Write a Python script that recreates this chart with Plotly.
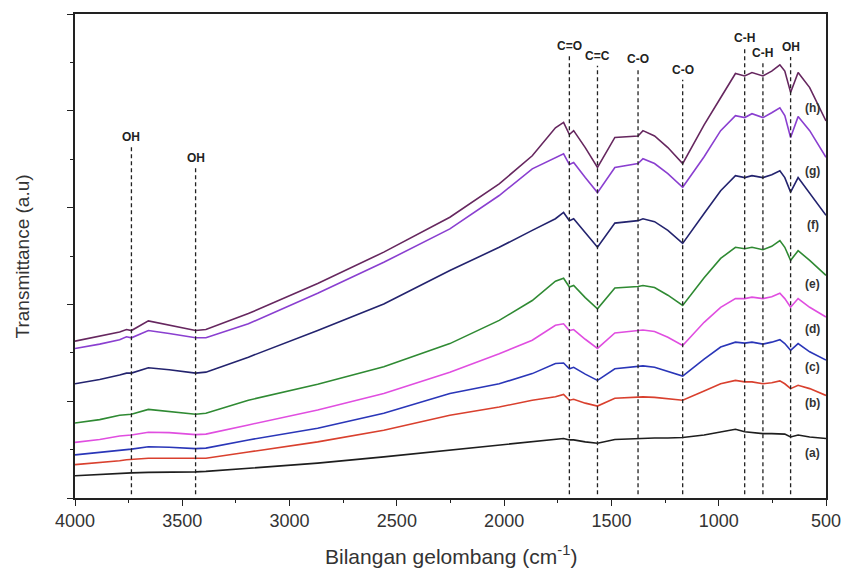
import plotly.graph_objects as go

# Wavenumbers (cm^-1) shared by every spectrum
wavenumber = [4000, 3885, 3792, 3760, 3737, 3658, 3561, 3438, 3390, 3192,
              2869, 2561, 2253, 2023, 1869, 1761, 1723, 1696, 1676, 1622,
              1565, 1484, 1376, 1353, 1299, 1237, 1168, 1068, 991, 922,
              879, 845, 794, 753, 715, 692, 665, 630, 576, 500]

# Transmittance (a.u., stacked) for samples (a)..(h)
spec_a = [0.46, 0.49, 0.51, 0.52, 0.52, 0.53, 0.53, 0.54, 0.55, 0.61,
          0.72, 0.85, 0.99, 1.09, 1.16, 1.21, 1.23, 1.20, 1.20, 1.16,
          1.13, 1.21, 1.23, 1.24, 1.24, 1.24, 1.25, 1.30, 1.37, 1.42,
          1.37, 1.35, 1.33, 1.33, 1.33, 1.32, 1.26, 1.30, 1.26, 1.23]
spec_b = [0.69, 0.73, 0.77, 0.79, 0.80, 0.82, 0.82, 0.81, 0.82, 0.95,
          1.16, 1.40, 1.71, 1.88, 2.02, 2.09, 2.14, 2.02, 2.04, 1.96,
          1.90, 2.06, 2.09, 2.09, 2.08, 2.05, 2.02, 2.21, 2.36, 2.43,
          2.40, 2.40, 2.36, 2.38, 2.42, 2.36, 2.26, 2.33, 2.26, 2.12]
spec_c = [0.89, 0.94, 0.99, 1.00, 1.01, 1.06, 1.05, 1.02, 1.03, 1.20,
          1.44, 1.75, 2.16, 2.36, 2.57, 2.78, 2.79, 2.67, 2.70, 2.56,
          2.43, 2.67, 2.72, 2.73, 2.70, 2.62, 2.52, 2.87, 3.12, 3.22,
          3.20, 3.22, 3.18, 3.22, 3.27, 3.19, 3.05, 3.19, 3.02, 2.85]
spec_d = [1.15, 1.21, 1.28, 1.29, 1.30, 1.36, 1.35, 1.31, 1.32, 1.51,
          1.82, 2.16, 2.60, 2.98, 3.26, 3.57, 3.60, 3.46, 3.48, 3.28,
          3.09, 3.41, 3.46, 3.47, 3.44, 3.32, 3.15, 3.63, 3.94, 4.12,
          4.12, 4.15, 4.12, 4.16, 4.23, 4.12, 3.94, 4.12, 3.94, 3.74]
spec_e = [1.55, 1.62, 1.71, 1.72, 1.73, 1.83, 1.79, 1.73, 1.75, 2.02,
          2.35, 2.71, 3.19, 3.67, 4.08, 4.48, 4.54, 4.36, 4.39, 4.14,
          3.91, 4.34, 4.37, 4.39, 4.35, 4.19, 3.98, 4.55, 4.95, 5.18,
          5.15, 5.18, 5.13, 5.20, 5.32, 5.18, 4.91, 5.11, 4.91, 4.60]
spec_f = [2.36, 2.45, 2.54, 2.58, 2.58, 2.69, 2.65, 2.58, 2.60, 2.91,
          3.46, 4.01, 4.70, 5.18, 5.53, 5.77, 5.90, 5.73, 5.77, 5.48,
          5.18, 5.68, 5.73, 5.77, 5.71, 5.53, 5.26, 5.88, 6.35, 6.66,
          6.62, 6.66, 6.62, 6.68, 6.76, 6.62, 6.32, 6.62, 6.29, 5.84]
spec_g = [3.09, 3.18, 3.27, 3.33, 3.31, 3.46, 3.40, 3.31, 3.31, 3.60,
          4.23, 4.87, 5.56, 6.25, 6.80, 7.03, 7.11, 6.89, 6.93, 6.62,
          6.31, 6.83, 6.91, 7.01, 6.91, 6.70, 6.42, 7.05, 7.59, 7.90,
          7.86, 7.94, 7.86, 7.96, 8.06, 7.90, 7.45, 7.88, 7.59, 7.04]
spec_h = [3.24, 3.34, 3.43, 3.48, 3.46, 3.66, 3.57, 3.46, 3.48, 3.81,
          4.43, 5.08, 5.80, 6.49, 7.07, 7.65, 7.76, 7.51, 7.59, 7.24,
          6.83, 7.45, 7.48, 7.59, 7.48, 7.24, 6.91, 7.71, 8.27, 8.77,
          8.72, 8.79, 8.72, 8.82, 8.95, 8.82, 8.38, 8.79, 8.48, 7.79]

series_names = ["(a)", "(b)", "(c)", "(d)", "(e)", "(f)", "(g)", "(h)"]
series_values = [spec_a, spec_b, spec_c, spec_d, spec_e, spec_f, spec_g, spec_h]
series_colors = ["#1e1e1e", "#d9402e", "#2a36b8", "#e04ee0",
                 "#2f8a33", "#23236e", "#8a3fd0", "#66275f"]
label_y = [0.93, 1.96, 2.70, 3.49, 4.43, 5.65, 6.75, 8.06]

# Absorption band markers
band_pos = [3737, 3438, 1696, 1565, 1376, 1168, 879, 794, 665]
band_name = ["OH", "OH", "C=O", "C=C", "C-O", "C-O", "C-H", "C-H", "OH"]
band_top = [7.26, 6.82, 9.13, 8.93, 8.87, 8.64, 9.30, 8.99, 9.11]

x_ticks = [4000, 3500, 3000, 2500, 2000, 1500, 1000, 500]

fig = go.Figure()

for name, vals, col in zip(series_names, series_values, series_colors):
    fig.add_trace(go.Scatter(x=wavenumber, y=vals, mode="lines", name=name,
                             line=dict(color=col, width=1.6), showlegend=False))

for pos, top, name in zip(band_pos, band_top, band_name):
    fig.add_shape(type="line", x0=pos, x1=pos, y0=0.08, y1=top, xref="x", yref="y",
                  line=dict(color="#222222", width=1.3, dash="4px,3px"), layer="above")
    fig.add_annotation(x=pos, y=top, xref="x", yref="y", text=name, showarrow=False,
                       yanchor="bottom", yshift=1,
                       font=dict(family="Liberation Sans, Arial", size=12,
                                 color="#222222", weight="bold"))

for name, ly in zip(series_names, label_y):
    fig.add_annotation(x=562, y=ly, xref="x", yref="y", text=name, showarrow=False,
                       font=dict(family="Liberation Sans, Arial", size=12,
                                 color="#333333", weight="bold"))

fig.add_annotation(x=-0.07, y=0.5, xref="paper", yref="paper", text="Transmittance (a.u)",
                   textangle=-90, showarrow=False, xanchor="center", yanchor="middle",
                   font=dict(family="Liberation Sans, Arial", size=19, color="#333333"))
fig.add_annotation(x=0.5, y=-0.087, xref="paper", yref="paper",
                   text="Bilangan gelombang (cm<sup>-1</sup>)",
                   showarrow=False, xanchor="center", yanchor="top",
                   font=dict(family="Liberation Sans, Arial", size=21, color="#333333"))

axis_line = dict(showline=True, linecolor="#222222", linewidth=1.5, mirror=True,
                 showgrid=False, zeroline=False, ticks="outside", ticklen=6,
                 tickwidth=1.3, tickcolor="#222222")

fig.update_xaxes(range=[4000, 500], tickvals=x_ticks, ticktext=[str(v) for v in x_ticks],
                 tickfont=dict(family="Liberation Sans, Arial", size=18, color="#333333"),
                 minor=dict(dtick=250, tick0=0, ticks="outside", ticklen=3,
                            tickcolor="#222222", tickwidth=1.2),
                 **axis_line)
fig.update_yaxes(range=[0, 10], dtick=2, tick0=0, showticklabels=False,
                 minor=dict(dtick=1, tick0=0, ticks="outside", ticklen=3,
                            tickcolor="#222222", tickwidth=1.2),
                 **axis_line)

fig.update_layout(width=853, height=570, autosize=False,
                  margin=dict(l=75, r=20, t=13, b=72),
                  paper_bgcolor="white", plot_bgcolor="white", showlegend=False)

fig.write_html("out.html")
